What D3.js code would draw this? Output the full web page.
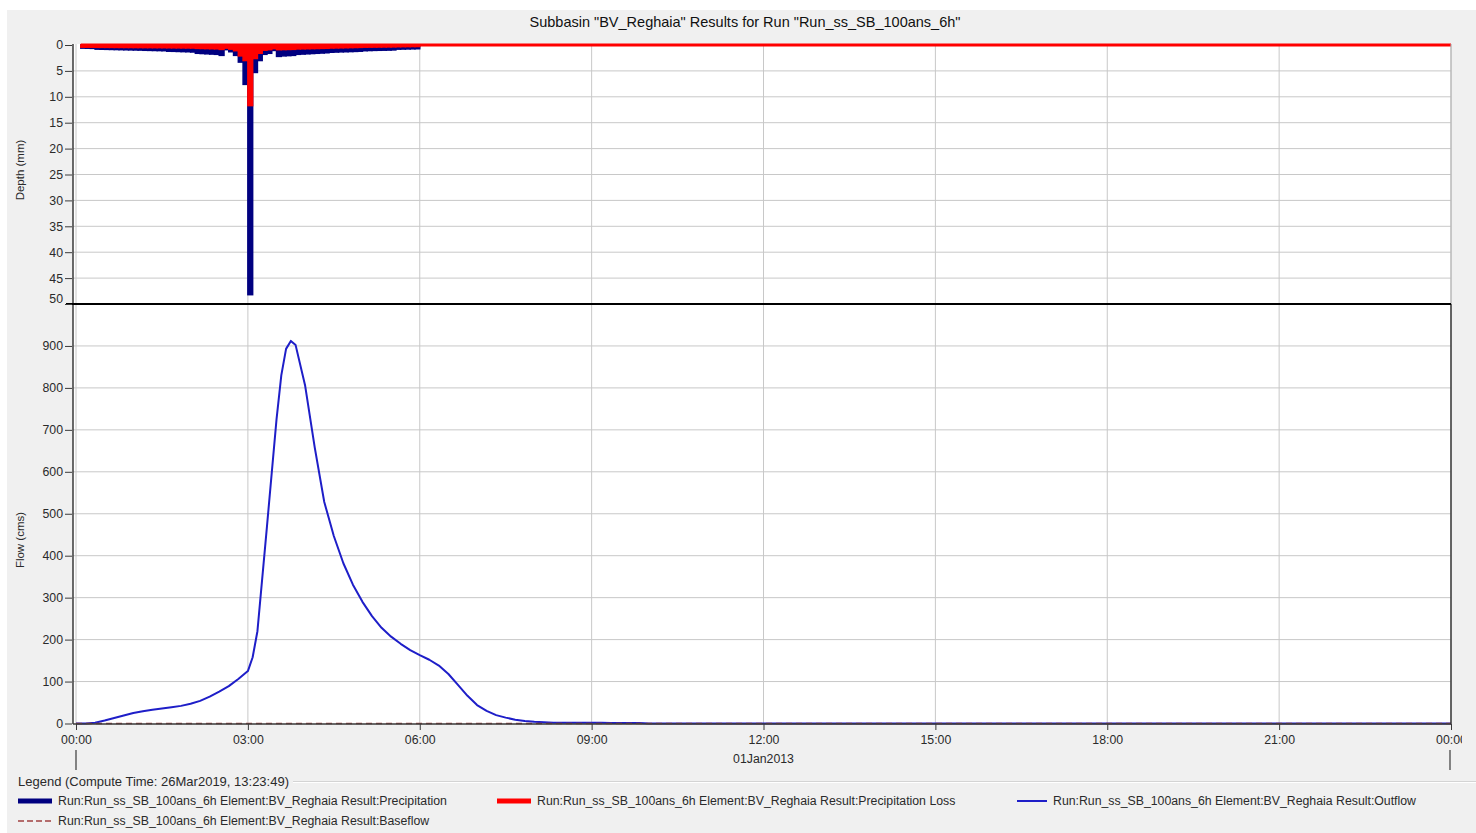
<!DOCTYPE html>
<html>
<head>
<meta charset="utf-8">
<script src="https://cdn.jsdelivr.net/npm/d3@7"></script>
<style>
  body { margin: 0; background: #ffffff; }
  text { font-family: Arial, "Liberation Sans", sans-serif; }
</style>
</head>
<body>
<svg id="chart" width="1476" height="833"></svg>
<script>
// ---------------------------------------------------------------------------
// Data
// ---------------------------------------------------------------------------
const chartTitle = 'Subbasin "BV_Reghaia" Results for Run "Run_ss_SB_100ans_6h"';

// Incremental depths (mm) for each 5-minute interval, 00:00 -> 06:00
const precipitation = [
  0.00, 0.60, 0.62, 0.65,
  0.80, 0.82, 0.84, 0.86, 0.88, 0.90, 0.92, 0.94, 0.96, 0.98,
  1.02, 1.04, 1.06, 1.08, 1.10,
  1.20, 1.22, 1.25, 1.28, 1.30, 1.35,
  1.60, 1.65, 1.70, 1.75, 1.80,
  2.00, 0.90, 1.30, 2.00, 3.30, 7.60, 48.2, 5.30, 3.00, 1.80, 1.60, 1.05,
  2.20, 2.10, 2.05, 2.00,
  1.80, 1.75, 1.70, 1.65, 1.60, 1.55, 1.50,
  1.40, 1.36, 1.32, 1.30, 1.27, 1.24, 1.20,
  1.10, 1.07, 1.04, 1.02, 1.00, 0.98, 0.95,
  0.80, 0.78, 0.76, 0.74, 0.72
];
const precipitationLoss = [
  0.00, 0.42, 0.42, 0.43,
  0.45, 0.45, 0.46, 0.46, 0.47, 0.47, 0.48, 0.48, 0.49, 0.49,
  0.50, 0.50, 0.51, 0.51, 0.52,
  0.53, 0.54, 0.55, 0.56, 0.57, 0.58,
  0.65, 0.67, 0.69, 0.71, 0.73,
  0.85, 0.60, 0.80, 1.10, 2.10, 3.00, 11.7, 2.60, 1.60, 1.00, 0.90, 0.70,
  0.90, 0.88, 0.86, 0.84,
  0.75, 0.73, 0.71, 0.69, 0.67, 0.65, 0.63,
  0.58, 0.56, 0.54, 0.52, 0.50, 0.48, 0.46,
  0.42, 0.41, 0.40, 0.39, 0.38, 0.37, 0.36,
  0.33, 0.32, 0.31, 0.30, 0.30
];
const stepMinutes = 5;

// Outflow hydrograph (cms) at the given minutes after 00:00
const flowMinutes = [
  0, 10, 20, 30, 40, 50, 60, 70, 80, 90, 100, 110, 120, 130, 140, 150, 160, 170,
  180, 185, 190, 200, 210, 215, 220, 225, 230, 240, 250, 260, 270, 280, 290, 300,
  310, 320, 330, 340, 350, 360, 370, 380, 390, 400, 410, 420, 430, 440, 450, 460,
  470, 480, 490, 500, 510, 520, 530, 540, 550, 560, 570, 580, 590, 600, 1440
];
const outflow = [
  0, 0, 2, 7, 13, 19, 25, 29, 33, 36, 39, 42, 47, 54, 64, 76, 89, 106,
  125, 158, 220, 470, 725, 830, 893, 912, 902, 805, 658, 528, 447, 382, 331, 290,
  256, 228, 207, 190, 175, 163, 152, 138, 118, 92, 66, 44, 30, 20, 14, 9,
  6, 4, 3, 2, 2, 2, 2, 2, 2, 1, 1, 1, 1, 0, 0
];
const baseflowMinutes = [0, 1440];
const baseflow = [0, 0];

const depthTicks = [0, 5, 10, 15, 20, 25, 30, 35, 40, 45, 50];
const flowTicks = [0, 100, 200, 300, 400, 500, 600, 700, 800, 900];
const timeTickHours = [0, 3, 6, 9, 12, 15, 18, 21, 24];
const timeTickLabels = ["00:00", "03:00", "06:00", "09:00", "12:00", "15:00", "18:00", "21:00", "00:00"];
const dateLabel = "01Jan2013";

const legendTitle = "Legend (Compute Time: 26Mar2019, 13:23:49)";
const seriesNames = [
  "Run:Run_ss_SB_100ans_6h Element:BV_Reghaia Result:Precipitation",
  "Run:Run_ss_SB_100ans_6h Element:BV_Reghaia Result:Precipitation Loss",
  "Run:Run_ss_SB_100ans_6h Element:BV_Reghaia Result:Outflow",
  "Run:Run_ss_SB_100ans_6h Element:BV_Reghaia Result:Baseflow"
];

// ---------------------------------------------------------------------------
// Styling
// ---------------------------------------------------------------------------
const colors = {
  panel: "#f0f0f0",
  grid: "#c8c8c8",
  axis: "#3a3a3a",
  text: "#2a2a2a",
  precip: "#000080",
  loss: "#ff0000",
  outflow: "#1e1ec8",
  baseflow: "#a04040"
};

const svg = d3.select("#chart");

// Window panel
svg.append("rect").attr("x", 7).attr("y", 10).attr("width", 1469).attr("height", 823)
  .attr("fill", colors.panel);

// Scales
const plotLeft = 73, plotRight = 1451;
const x = d3.scaleLinear().domain([0, 24]).range([76, 1451]);
const yDepth = d3.scaleLinear().domain([0, 50]).range([45, 304]);
const yFlow = d3.scaleLinear().domain([0, 1000]).range([723.5, 304]);

// Plot backgrounds
svg.append("rect").attr("x", plotLeft).attr("y", 44).attr("width", plotRight - plotLeft)
  .attr("height", 304 - 44).attr("fill", "#ffffff");
svg.append("rect").attr("x", plotLeft).attr("y", 304).attr("width", plotRight - plotLeft)
  .attr("height", 723.5 - 304).attr("fill", "#ffffff");

// Grid lines
const grid = svg.append("g").attr("stroke", colors.grid).attr("stroke-width", 1);
timeTickHours.forEach(h => {
  grid.append("line").attr("x1", x(h)).attr("x2", x(h)).attr("y1", 44).attr("y2", 723.5);
});
depthTicks.filter(d => d > 0 && d < 50).forEach(d => {
  grid.append("line").attr("x1", plotLeft).attr("x2", plotRight)
    .attr("y1", yDepth(d)).attr("y2", yDepth(d));
});
flowTicks.filter(d => d > 0).forEach(d => {
  grid.append("line").attr("x1", plotLeft).attr("x2", plotRight)
    .attr("y1", yFlow(d)).attr("y2", yFlow(d));
});

// ---------------------------------------------------------------------------
// Hyetograph (hanging bars)
// ---------------------------------------------------------------------------
const hours = i => i * stepMinutes / 60;
function drawBars(values, color) {
  svg.append("g").selectAll("rect")
    .data(values.map((v, i) => ({ v, i })).filter(d => d.v > 0))
    .join("rect")
    .attr("x", d => x(hours(d.i)))
    .attr("width", d => x(hours(d.i + 1)) - x(hours(d.i)))
    .attr("y", yDepth(0))
    .attr("height", d => yDepth(d.v) - yDepth(0))
    .attr("fill", color)
    .attr("stroke", color)
    .attr("stroke-width", 1.5);
}
drawBars(precipitation, colors.precip);
drawBars(precipitationLoss, colors.loss);

// Zero line of the loss series continues to the end of the run
svg.append("path")
  .datum([hours(1), 24])
  .attr("d", d3.line().x(h => x(h)).y(() => yDepth(0)))
  .attr("stroke", colors.loss).attr("stroke-width", 3).attr("fill", "none");

// ---------------------------------------------------------------------------
// Hydrograph
// ---------------------------------------------------------------------------
const flowLine = d3.line().x(d => x(d[0] / 60)).y(d => yFlow(d[1]));
svg.append("path")
  .datum(flowMinutes.map((m, i) => [m, outflow[i]]))
  .attr("d", flowLine)
  .attr("fill", "none").attr("stroke", colors.outflow).attr("stroke-width", 2)
  .attr("stroke-linejoin", "round");
svg.append("path")
  .datum(baseflowMinutes.map((m, i) => [m, baseflow[i]]))
  .attr("d", flowLine)
  .attr("fill", "none").attr("stroke", colors.baseflow).attr("stroke-width", 1.5)
  .attr("stroke-dasharray", "6,4");

// ---------------------------------------------------------------------------
// Frame and axes
// ---------------------------------------------------------------------------
svg.append("line").attr("x1", plotRight).attr("x2", plotRight).attr("y1", 44).attr("y2", 304)
  .attr("stroke", "#b0b0b0");
svg.append("line").attr("x1", plotRight).attr("x2", plotRight).attr("y1", 304).attr("y2", 724)
  .attr("stroke", colors.axis).attr("stroke-width", 1.5);
svg.append("line").attr("x1", plotLeft).attr("x2", plotLeft).attr("y1", 44).attr("y2", 724)
  .attr("stroke", colors.axis).attr("stroke-width", 1.5);
svg.append("line").attr("x1", plotLeft).attr("x2", plotRight).attr("y1", 724).attr("y2", 724)
  .attr("stroke", colors.axis).attr("stroke-width", 1.5);
svg.append("line").attr("x1", 66).attr("x2", plotRight).attr("y1", 304).attr("y2", 304)
  .attr("stroke", "#000000").attr("stroke-width", 2);

function styleAxis(g) {
  g.select(".domain").remove();
  g.selectAll(".tick line").attr("stroke", colors.axis);
  g.selectAll(".tick text").attr("fill", colors.text).style("font-size", "12.3px")
    .style("font-family", 'Arial, "Liberation Sans", sans-serif');
}

const depthAxis = svg.append("g").attr("transform", `translate(${plotLeft - 1},0)`)
  .call(d3.axisLeft(yDepth).tickValues(depthTicks).tickSize(7).tickPadding(2))
  .call(styleAxis);
depthAxis.selectAll(".tick text").filter(d => d === 50).attr("dy", "-0.1em");

svg.append("g").attr("transform", `translate(${plotLeft - 1},0)`)
  .call(d3.axisLeft(yFlow).tickValues(flowTicks).tickSize(7).tickPadding(2))
  .call(styleAxis);

// Clip the time axis at the right edge of the chart component
svg.append("clipPath").attr("id", "axisClip")
  .append("rect").attr("x", 0).attr("y", 0).attr("width", 1462).attr("height", 833);

svg.append("g").attr("transform", "translate(0,724)")
  .attr("clip-path", "url(#axisClip)")
  .call(d3.axisBottom(x).tickValues(timeTickHours)
    .tickFormat((d, i) => timeTickLabels[i]).tickSize(6).tickPadding(5))
  .call(styleAxis);

svg.append("text").attr("x", x(12)).attr("y", 763).attr("text-anchor", "middle")
  .attr("fill", colors.text).style("font-size", "12.3px").text(dateLabel);

// Day boundary markers
[0, 24].forEach(h => {
  const xx = x(h) - (h === 24 ? 1 : 0);
  svg.append("line").attr("x1", xx).attr("x2", xx)
    .attr("y1", 750).attr("y2", 770).attr("stroke", colors.axis).attr("stroke-width", 1.2);
});

// Axis titles
svg.append("text").attr("transform", `translate(24,170) rotate(-90)`)
  .attr("text-anchor", "middle").attr("fill", colors.text).style("font-size", "11.5px")
  .text("Depth (mm)");
svg.append("text").attr("transform", `translate(24,540) rotate(-90)`)
  .attr("text-anchor", "middle").attr("fill", colors.text).style("font-size", "11.5px")
  .text("Flow (cms)");

// Chart title
svg.append("text").attr("x", 745).attr("y", 27).attr("text-anchor", "middle")
  .attr("fill", "#111").style("font-size", "14.5px").text(chartTitle);

// ---------------------------------------------------------------------------
// Legend
// ---------------------------------------------------------------------------
const legendTitleText = svg.append("text").attr("x", 18).attr("y", 786)
  .attr("fill", colors.text).style("font-size", "13px").text(legendTitle);
const ltw = legendTitleText.node().getComputedTextLength();
svg.append("line").attr("x1", 18 + ltw + 4).attr("x2", 1476).attr("y1", 781.5).attr("y2", 781.5)
  .attr("stroke", "#d4d4d4");
svg.append("line").attr("x1", 18 + ltw + 4).attr("x2", 1476).attr("y1", 782.5).attr("y2", 782.5)
  .attr("stroke", "#ffffff");

const legendItems = [
  { name: seriesNames[0], x: 18, y: 801, w: 34, color: colors.precip, width: 5, dash: null },
  { name: seriesNames[1], x: 497, y: 801, w: 34, color: colors.loss, width: 5, dash: null },
  { name: seriesNames[2], x: 1017, y: 801, w: 30, color: colors.outflow, width: 2, dash: null },
  { name: seriesNames[3], x: 18, y: 821, w: 34, color: colors.baseflow, width: 1.5, dash: "6,3" }
];
const lg = svg.append("g").selectAll("g").data(legendItems).join("g");
lg.append("line")
  .attr("x1", d => d.x).attr("x2", d => d.x + d.w)
  .attr("y1", d => d.y).attr("y2", d => d.y)
  .attr("stroke", d => d.color).attr("stroke-width", d => d.width)
  .attr("stroke-dasharray", d => d.dash);
lg.append("text")
  .attr("x", d => d.x + d.w + 6).attr("y", d => d.y + 4)
  .attr("fill", colors.text).style("font-size", "12.3px")
  .text(d => d.name);
</script>
</body>
</html>
